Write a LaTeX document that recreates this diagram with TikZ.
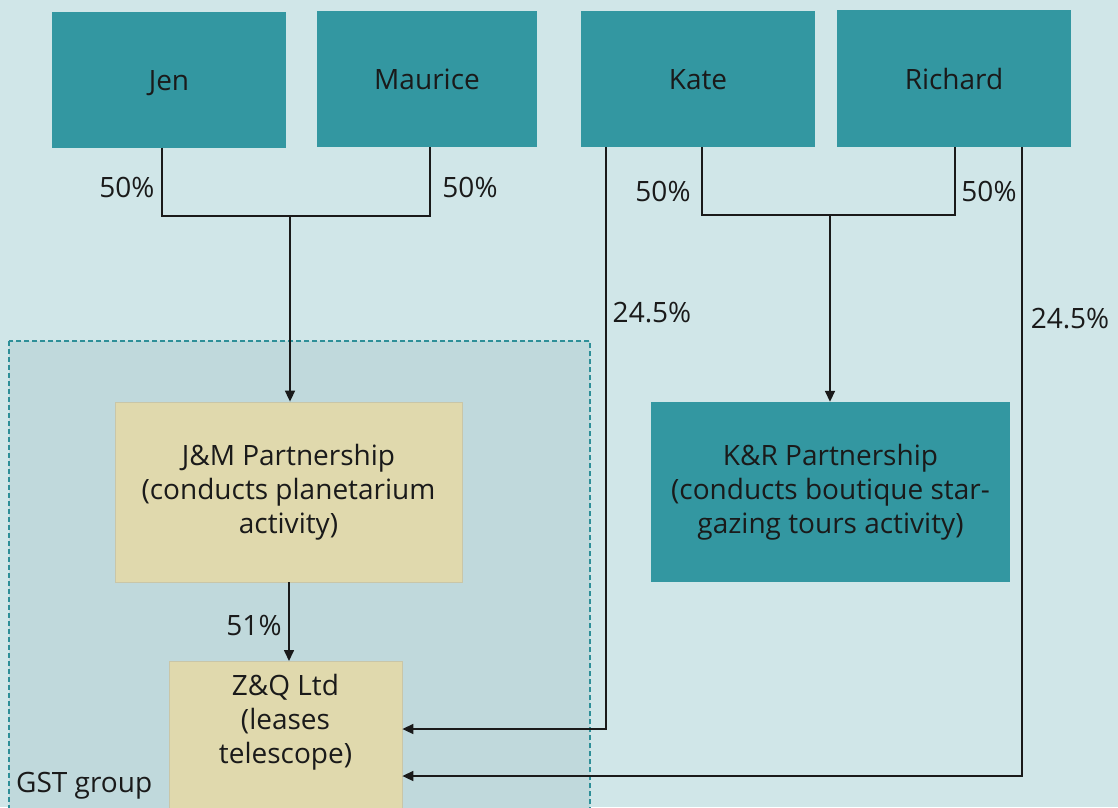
\documentclass[tikz,border=0pt]{standalone}
\usepackage{fontspec}
\setmainfont{Open Sans}
\usetikzlibrary{arrows.meta}
\definecolor{bgcol}{HTML}{D0E6E8}
\definecolor{tealcol}{HTML}{3397A1}
\definecolor{tancol}{HTML}{E0D9AD}
\definecolor{tanedge}{HTML}{C9C6A8}
\definecolor{groupfill}{HTML}{C0D9DC}
\definecolor{groupedge}{HTML}{2E8F98}
\definecolor{ink}{HTML}{1A1A1A}
\tikzset{
  base/.style={font=\fontsize{28}{34}\selectfont, text=ink, align=center, inner sep=0pt},
  person/.style={base, fill=tealcol, minimum width=234pt, minimum height=136pt,
    text height=24pt, text depth=3pt},
  tanbox/.style={base, fill=tancol, draw=tanedge, line width=0.8pt},
  tealbox/.style={base, fill=tealcol},
  link/.style={draw=ink, line width=1.6pt},
  arrowlink/.style={link, -{Triangle[length=11pt,width=10pt]}},
  pct/.style={base},
}
\begin{document}
\begin{tikzpicture}[x=1pt,y=-1pt]
  \fill[bgcol] (0,0) rectangle (1118,807);
  \useasboundingbox (0,0) rectangle (1118,807);

  % GST group boundary
  \draw[groupedge, fill=groupfill, dashed, line width=1.2pt, dash pattern=on 5pt off 3pt]
    (9,341) rectangle (590,830);
  \node[base, anchor=west] (gstlabel) at (16,786) {GST group};

  % individuals
  \node[person] (jen) at (169,79.5) {Jen};
  \node[person, minimum width=220pt] (maurice) at (427,79) {Maurice};
  \node[person] (kate) at (698,79) {Kate};
  \node[person, minimum height=137pt] (richard) at (954,78.5) {Richard};

  % entities
  \node[tanbox, minimum width=347pt, minimum height=180pt] (jm) at (288.5,492)
    {J\&M Partnership\\(conducts planetarium\\activity)};
  \node[tealbox, minimum width=359pt, minimum height=180pt] (kr) at (830.5,492)
    {K\&R Partnership\\(conducts boutique star-\\gazing tours activity)};
  \node[tanbox, minimum width=233pt, minimum height=170pt, anchor=north] (zq) at (285.5,661) {};
  \node[base] (zqtext) at (285.5,722) {Z\&Q Ltd\\(leases\\telescope)};

  % junction points
  \coordinate (jmjoin) at (290,216);
  \coordinate (krjoin) at (830,215);

  % Jen and Maurice -> J&M Partnership
  \draw[link] (jen.south -| 162,0) -- (162,216) -- (430,216) -- (maurice.south -| 430,0);
  \draw[arrowlink] (jmjoin) -- (jmjoin |- jm.north);

  % Kate and Richard -> K&R Partnership
  \draw[link] (kate.south -| 702,0) -- (702,215) -- (955,215) -- (richard.south -| 955,0);
  \draw[arrowlink] (krjoin) -- (krjoin |- kr.north);

  % J&M Partnership -> Z&Q Ltd
  \draw[arrowlink] (jm.south -| 289,0) -- (zq.north -| 289,0);

  % direct holdings of Kate and Richard in Z&Q Ltd
  \draw[arrowlink] (kate.south -| 606,0) |- (zq.east |- 0,729);
  \draw[arrowlink] (richard.south -| 1022,0) |- (zq.east |- 0,776);

  % percentages
  \node[pct] (p1) at (127,187) {50\%};
  \node[pct] (p2) at (470,187) {50\%};
  \node[pct] (p3) at (663,191) {50\%};
  \node[pct] (p4) at (989,191) {50\%};
  \node[pct] (p5) at (652,313) {24.5\%};
  \node[pct] (p6) at (1070,319) {24.5\%};
  \node[pct] (p7) at (254,625) {51\%};
\end{tikzpicture}
\end{document}
